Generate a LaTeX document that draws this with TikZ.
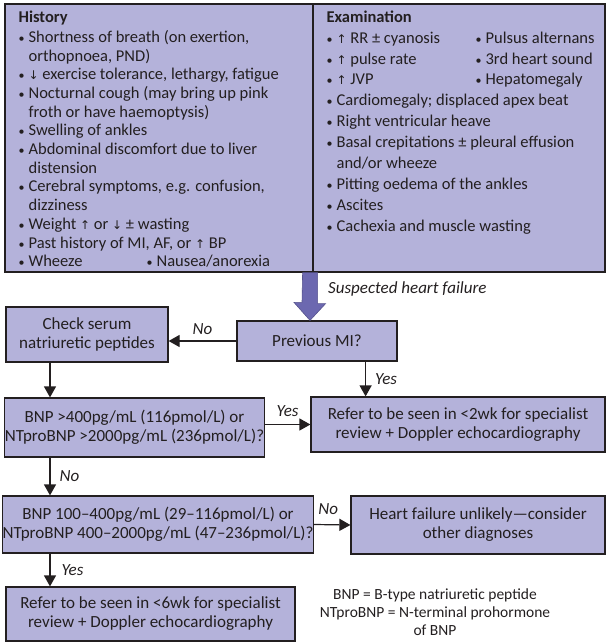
\documentclass[tikz,border=0pt]{standalone}
\usepackage{fontspec}
\setmainfont{Carlito}
\newfontfamily\arrowfont{DejaVu Sans}
\usetikzlibrary{positioning,arrows.meta}

\definecolor{boxfill}{HTML}{B4B2DA}
\definecolor{arrowfill}{HTML}{6C68B0}
\definecolor{edge}{HTML}{231F20}

\newcommand{\flowfont}{\fontsize{17}{19}\selectfont}
\newcommand{\bul}{\makebox[10pt][l]{\fontsize{12}{12}\selectfont•}}
\newcommand{\cont}{\hspace*{10pt}}
\newcommand{\up}{{\arrowfont\fontsize{12}{12}\selectfont ↑}}
\newcommand{\dn}{{\arrowfont\fontsize{12}{12}\selectfont ↓}}

\tikzset{
  box/.style={draw=edge, fill=boxfill, line width=1.2pt, align=center, inner sep=0pt, text=edge, font=\flowfont},
  panel/.style={draw=edge, fill=boxfill, line width=1.2pt, inner sep=0pt},
  paneltext/.style={align=left, inner sep=0pt, text=edge, anchor=north west},
  arr/.style={draw=edge, line width=1.2pt, -{Triangle[length=11pt,width=12pt]}},
  lbl/.style={font=\flowfont\itshape, text=edge, inner sep=3pt},
  bigarrow/.style={fill=arrowfill, draw=arrowfill!80!black, line width=0.6pt},
}

\begin{document}
\begin{tikzpicture}[x=1pt,y=-1pt]
\useasboundingbox (0,0) rectangle (606,643);

% symptom panels
\node[panel, minimum width=308pt, minimum height=268pt] (hist) at (159,138) {};
\node[panel, minimum width=292pt, minimum height=268pt] (exam) at (459,138) {};

\node[paneltext, font={\fontsize{16.5}{18.7}\selectfont}, below right=7pt and 14pt of hist.north west] (histtext) {%
\textbf{History}\\[1.5pt]
\bul Shortness of breath (on exertion,\\
\cont orthopnoea, PND)\\
\bul \dn{} exercise tolerance, lethargy, fatigue\\
\bul Nocturnal cough (may bring up pink\\
\cont froth or have haemoptysis)\\
\bul Swelling of ankles\\
\bul Abdominal discomfort due to liver\\
\cont distension\\
\bul Cerebral symptoms, e.g. confusion,\\
\cont dizziness\\
\bul Weight \up{} or \dn{} \textpm{} wasting\\
\bul Past history of MI, AF, or \up{} BP\\
\makebox[128pt][l]{\bul Wheeze}\bul Nausea/anorexia};

\node[paneltext, font={\fontsize{16.5}{20.9}\selectfont}, below right=7pt and 14pt of exam.north west] (examtext) {%
\textbf{Examination}\\
\makebox[149pt][l]{\bul \up{} RR \textpm{} cyanosis}\bul Pulsus alternans\\
\makebox[149pt][l]{\bul \up{} pulse rate}\bul 3rd heart sound\\
\makebox[149pt][l]{\bul \up{} JVP}\bul Hepatomegaly\\
\bul Cardiomegaly; displaced apex beat\\
\bul Right ventricular heave\\
\bul Basal crepitations \textpm{} pleural effusion\\
\cont and/or wheeze\\
\bul Pitting oedema of the ankles\\
\bul Ascites\\
\bul Cachexia and muscle wasting};

% decision boxes
\node[box, minimum width=160pt, minimum height=40pt] (prevmi) at (317,341) {Previous MI?};
\node[box, minimum width=162pt, minimum height=55pt] (serum) at (87,334.5) {Check serum\\natriuretic peptides};
\node[box, minimum width=257pt, minimum height=59pt] (bnphigh) at (134.5,427.5) {BNP >400pg/mL (116pmol/L) or\\NTproBNP >2000pg/mL (236pmol/L)?};
\node[box, minimum width=294pt, minimum height=55pt] (urgent) at (458,424.5) {Refer to be seen in <2wk for specialist\\review + Doppler echocardiography};
\node[box, minimum width=304pt, minimum height=57pt] (bnpmid) at (158,524.5) {BNP 100–400pg/mL (29–116pmol/L) or\\NTproBNP 400–2000pg/mL (47–236pmol/L)?};
\node[box, minimum width=254pt, minimum height=58pt] (unlikely) at (478,525) {Heart failure unlikely—consider\\other diagnoses};
\node[box, minimum width=289pt, minimum height=54pt] (routine) at (150.5,614) {Refer to be seen in <6wk for specialist\\review + Doppler echocardiography};

\node[font={\fontsize{15.5}{17.8}\selectfont}, text=edge, align=center] (key) at (435,612) {BNP = B-type natriuretic peptide\\NTproBNP = N-terminal prohormone\\of BNP};

% wide arrow into the first question
\coordinate (tip) at ([xshift=-7pt]prevmi.north);
\filldraw[bigarrow] ([xshift=-11pt]hist.south east) -- ++(15,0) -- ++(0,31) -- ++(8,0) -- (tip) -- ++(-16,-18) -- ++(8,0) -- cycle;
\node[lbl, anchor=west] (suspect) at (325,289) {Suspected heart failure};

% connectors
\coordinate (spine) at (50,0);
\draw[arr] (prevmi.west) -- node[lbl, above=3pt] {No} (serum.east |- prevmi.west);
\draw[arr] ([xshift=-32pt]prevmi.south east) -- node[lbl, right=6pt] {Yes} ([xshift=-32pt]prevmi.south east |- urgent.north);
\draw[arr] (serum.south -| spine) -- (bnphigh.north -| spine);
\draw[arr] (bnphigh.east |- urgent.west) -- node[lbl, above=4pt] {Yes} (urgent.west);
\draw[arr] (bnphigh.south -| spine) -- node[lbl, right=6pt] {No} (bnpmid.north -| spine);
\draw[arr] (bnpmid.east) -- node[lbl, above=7pt, xshift=-4pt] {No} (unlikely.west);
\draw[arr] (bnpmid.south -| spine) -- node[lbl, right=8pt] {Yes} (routine.north -| spine);
\end{tikzpicture}
\end{document}
